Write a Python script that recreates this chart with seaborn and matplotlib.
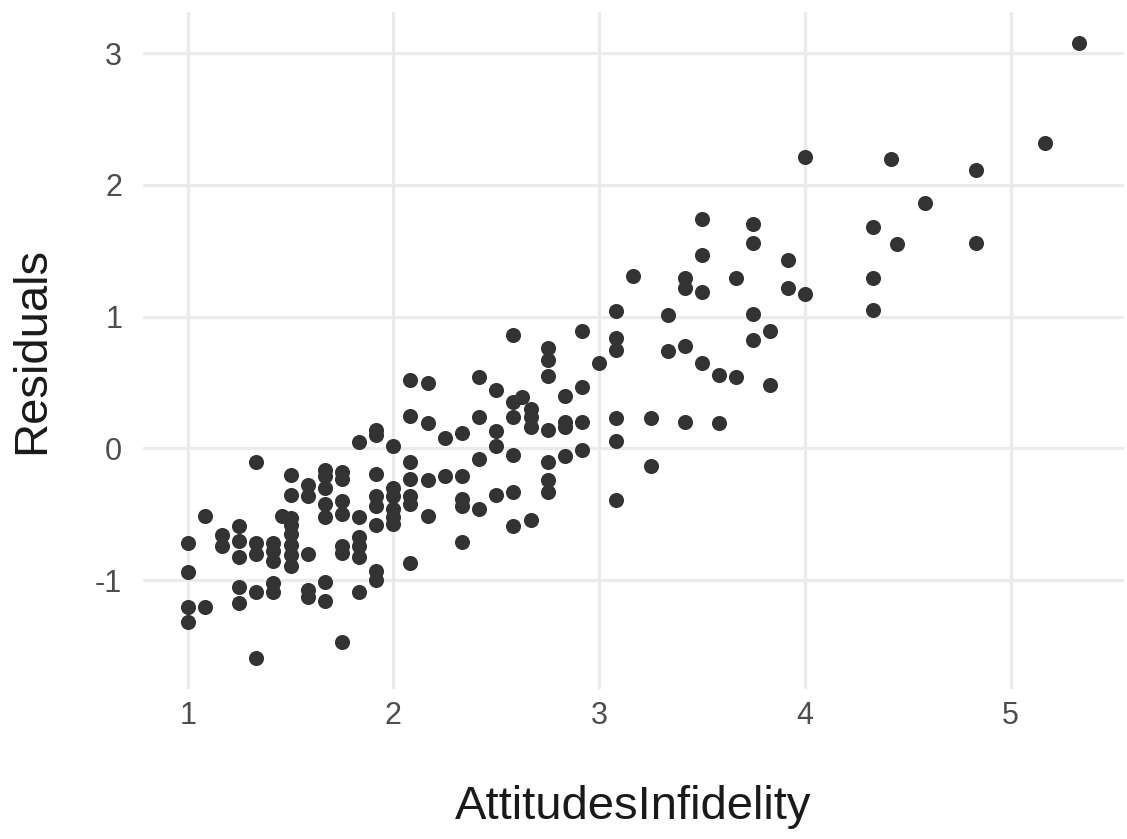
import matplotlib
matplotlib.use("Agg")
import matplotlib.pyplot as plt
import seaborn as sns
import pandas as pd

# attitudes toward infidelity (x) and model residuals (y)
attitudes = [
    1.0, 1.0, 1.0, 1.0,
    1.083, 1.083,
    1.167, 1.167,
    1.25, 1.25, 1.25, 1.25, 1.25,
    1.333, 1.333, 1.333, 1.333, 1.333,
    1.417, 1.417, 1.417, 1.417, 1.417,
    1.46,
    1.5, 1.5, 1.5, 1.5, 1.5, 1.5, 1.5, 1.5,
    1.583, 1.583, 1.583, 1.583, 1.583,
    1.667, 1.667, 1.667, 1.667, 1.667, 1.667, 1.667,
    1.75, 1.75, 1.75, 1.75, 1.75, 1.75, 1.75,
    1.833, 1.833, 1.833, 1.833, 1.833, 1.833,
    1.917, 1.917, 1.917, 1.917, 1.917, 1.917, 1.917, 1.917,
    2.0, 2.0, 2.0, 2.0, 2.0, 2.0,
    2.083, 2.083, 2.083, 2.083, 2.083, 2.083, 2.083,
    2.167, 2.167, 2.167, 2.167,
    2.25, 2.25,
    2.333, 2.333, 2.333, 2.333, 2.333,
    2.417, 2.417, 2.417, 2.417,
    2.5, 2.5, 2.5, 2.5,
    2.583, 2.583, 2.583, 2.583, 2.583, 2.583,
    2.625,
    2.667, 2.667, 2.667, 2.667,
    2.75, 2.75, 2.75, 2.75, 2.75, 2.75, 2.75,
    2.833, 2.833, 2.833, 2.833,
    2.917, 2.917, 2.917, 2.917,
    3.0,
    3.083, 3.083, 3.083, 3.083, 3.083, 3.083,
    3.167,
    3.25, 3.25,
    3.333, 3.333,
    3.417, 3.417, 3.417, 3.417,
    3.5, 3.5, 3.5, 3.5,
    3.583, 3.583,
    3.667, 3.667,
    3.75, 3.75, 3.75, 3.75,
    3.833, 3.833,
    3.917, 3.917,
    4.0, 4.0,
    4.333, 4.333, 4.333,
    4.417,
    4.45,
    4.583,
    4.833, 4.833,
    5.167,
    5.333,
]
residuals = [
    -0.72, -0.94, -1.20, -1.32,
    -0.51, -1.20,
    -0.66, -0.74,
    -0.59, -0.70, -0.82, -1.05, -1.17,
    -0.10, -0.72, -0.80, -1.09, -1.59,
    -0.72, -0.78, -0.85, -1.02, -1.09,
    -0.51,
    -0.20, -0.35, -0.53, -0.58, -0.65, -0.73, -0.81, -0.89,
    -0.28, -0.36, -0.80, -1.07, -1.13,
    -0.16, -0.21, -0.30, -0.42, -0.52, -1.01, -1.16,
    -0.18, -0.23, -0.40, -0.50, -0.74, -0.79, -1.47,
    0.05, -0.52, -0.67, -0.74, -0.82, -1.09,
    0.14, 0.10, -0.19, -0.36, -0.44, -0.58, -0.93, -1.00,
    0.02, -0.30, -0.36, -0.46, -0.52, -0.57,
    0.52, 0.25, -0.10, -0.23, -0.36, -0.42, -0.87,
    0.50, 0.19, -0.24, -0.51,
    0.08, -0.21,
    0.12, -0.21, -0.38, -0.44, -0.71,
    0.54, 0.24, -0.08, -0.46,
    0.44, 0.13, 0.02, -0.35,
    0.86, 0.35, 0.24, -0.05, -0.33, -0.59,
    0.39,
    0.30, 0.24, 0.16, -0.54,
    0.76, 0.67, 0.55, 0.14, -0.10, -0.24, -0.33,
    0.40, 0.20, 0.16, -0.06,
    0.89, 0.47, 0.20, -0.01,
    0.65,
    1.04, 0.84, 0.75, 0.23, 0.06, -0.39,
    1.31,
    0.23, -0.13,
    1.01, 0.74,
    1.29, 1.22, 0.78, 0.20,
    1.74, 1.47, 1.19, 0.65,
    0.56, 0.19,
    1.29, 0.54,
    1.70, 1.56, 1.02, 0.82,
    0.89, 0.48,
    1.43, 1.22,
    2.21, 1.17,
    1.68, 1.29, 1.05,
    2.20,
    1.55,
    1.86,
    2.11, 1.56,
    2.32,
    3.08,
]
x_ticks = [1, 2, 3, 4, 5]
y_ticks = [-1, 0, 1, 2, 3]

df = pd.DataFrame({"AttitudesInfidelity": attitudes, "Residuals": residuals})

sns.set_theme(style="whitegrid")
plt.rcParams["font.family"] = ["Liberation Sans", "DejaVu Sans"]

fig = plt.figure(figsize=(11.27, 8.39), dpi=100)
ax = fig.add_axes([0.127, 0.179, 0.870, 0.807])

sns.scatterplot(data=df, x="AttitudesInfidelity", y="Residuals", ax=ax,
                color="#333333", s=118, linewidth=0, edgecolor=None)

xmin, xmax = min(attitudes), max(attitudes)
ymin, ymax = min(residuals), max(residuals)
xpad = (xmax - xmin) * 0.05
ypad = (ymax - ymin) * 0.05
ax.set_xlim(xmin - xpad, xmax + xpad)
ax.set_ylim(ymin - ypad, ymax + ypad)
ax.set_xticks(x_ticks)
ax.set_yticks(y_ticks)
ax.set_xticklabels([str(t) for t in x_ticks])
ax.set_yticklabels([str(t) for t in y_ticks])

ax.set_facecolor("white")
for s in ax.spines.values():
    s.set_visible(False)
ax.grid(True, color="#EBEBEB", linewidth=2.3)
ax.set_axisbelow(True)
ax.tick_params(axis="both", length=0, labelsize=22, labelcolor="#4D4D4D")
ax.tick_params(axis="x", pad=9)
ax.tick_params(axis="y", pad=15)

ax.set_xlabel("AttitudesInfidelity", fontsize=34, color="#1a1a1a")
ax.set_ylabel("Residuals", fontsize=34, color="#1a1a1a")
ax.xaxis.set_label_coords(0.5, -0.174)
ax.xaxis.label.set_va("center")
ax.yaxis.set_label_coords(-0.113, 0.5)
ax.yaxis.label.set_va("center")

fig.savefig("out.png", dpi=100, facecolor="white")
